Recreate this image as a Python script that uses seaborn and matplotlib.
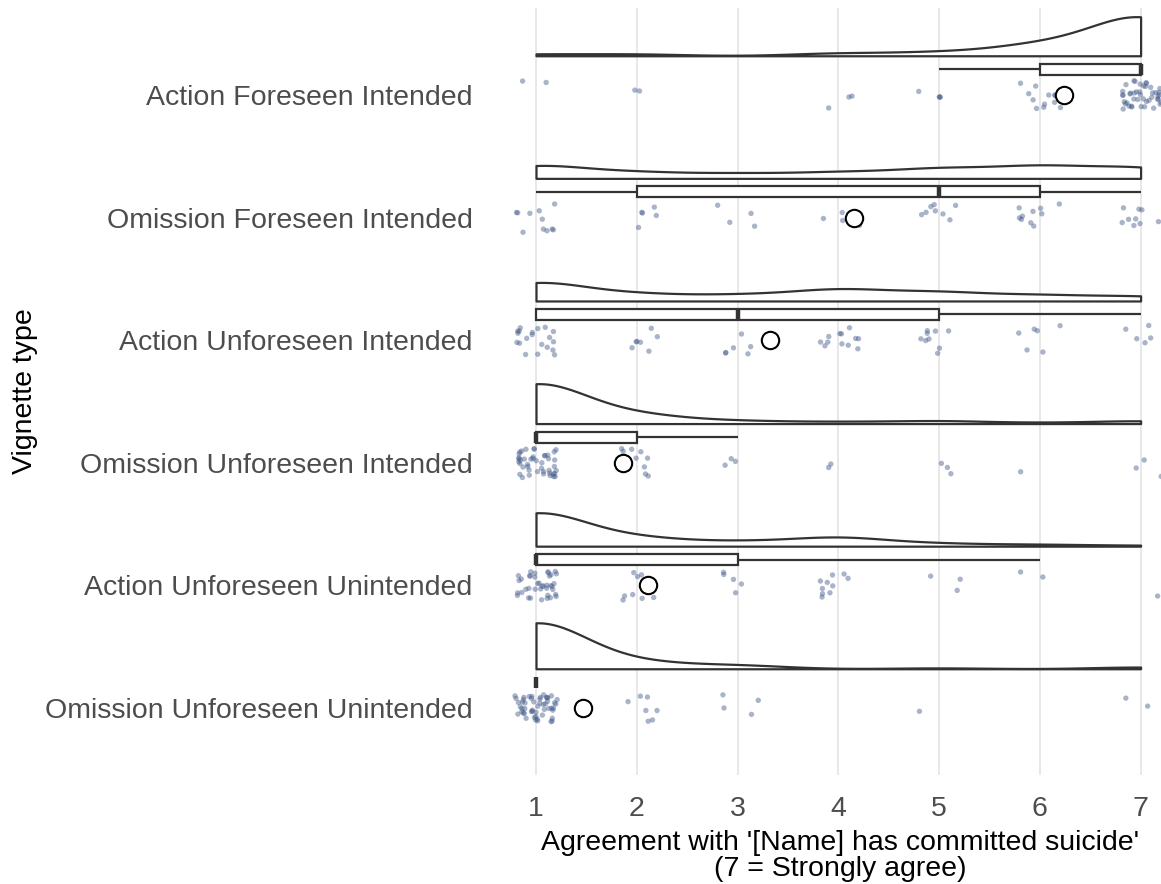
import numpy as np
import pandas as pd
import matplotlib
matplotlib.use("Agg")
import matplotlib.pyplot as plt
import seaborn as sns

# ---------------- data ----------------
categories = [
    "Action Foreseen Intended",
    "Omission Foreseen Intended",
    "Action Unforeseen Intended",
    "Omission Unforeseen Intended",
    "Action Unforeseen Unintended",
    "Omission Unforeseen Unintended",
]
levels = [1, 2, 3, 4, 5, 6, 7]
# number of responses at each level 1..7, per vignette
counts_afi = [2, 2, 0, 3, 4, 12, 44]
counts_ofi = [11, 5, 4, 5, 8, 10, 9]
counts_aui = [20, 7, 6, 12, 9, 6, 5]
counts_oui = [44, 9, 3, 2, 3, 1, 3]
counts_auu = [39, 9, 5, 10, 3, 2, 1]
counts_ouu = [52, 7, 4, 0, 1, 0, 2]
all_counts = [counts_afi, counts_ofi, counts_aui, counts_oui, counts_auu, counts_ouu]

xticks = [1, 2, 3, 4, 5, 6, 7]
xlabel = "Agreement with '[Name] has committed suicide'\n(7 = Strongly agree)"
ylabel = "Vignette type"

# ---------------- build long table ----------------
rows = []
for i, (cat, cnt) in enumerate(zip(categories, all_counts)):
    resp = np.repeat(levels, cnt)
    for k, r in enumerate(resp):
        rows.append({"vignette": cat, "idx": i, "response": float(r), "k": k})
df = pd.DataFrame(rows)

# display-only offsets (deterministic hash jitter)
VW = 0.375                      # half-violin height
CLOUD_BASE, BOX_OFF = 0.32, 0.21
def _frac_hash(a, seed):
    v = np.sin(a * 12.9898 + seed * 78.233) * 43758.5453
    return v - np.floor(v)
key = df["k"].to_numpy() + 101 * df["idx"].to_numpy()
df["cloud_pos"] = df["idx"] - CLOUD_BASE - VW / 2
df["box_pos"] = df["idx"] - BOX_OFF
df["x_jit"] = df["response"] + (_frac_hash(key, 1.0) - 0.5) * 0.42
df["y_jit"] = df["idx"] + (_frac_hash(key, 2.0) - 0.5) * 0.24

BW = 0.5  # common kernel bandwidth (response units)
def fixed_bw(kde):
    return BW / np.std(kde.dataset, ddof=1)

# ---------------- figure ----------------
W, H = 1161, 884
fig = plt.figure(figsize=(W / 100, H / 100), dpi=100)
left_px, right_px, top_px, bot_px = 483.6, 1193.0, 8.0, 775.0
ax = fig.add_axes([left_px / W, 1 - bot_px / H, (right_px - left_px) / W, (bot_px - top_px) / H])

edge = "#333333"
sns.violinplot(data=df, x="response", y="cloud_pos", orient="h", native_scale=True,
               split=True, inner=None, cut=0, density_norm="area", width=VW,
               bw_method=fixed_bw, gridsize=300, color="white", linecolor=edge,
               linewidth=1.6, ax=ax)

sns.scatterplot(data=df, x="x_jit", y="y_jit", color="#42598a", alpha=0.45,
                s=15, edgecolor="none", ax=ax, legend=False, zorder=3)

sns.boxplot(data=df, x="response", y="box_pos", orient="h", native_scale=True,
            width=0.09, showfliers=False, showcaps=False, whis=1.5,
            color="white", linecolor=edge, linewidth=1.6,
            medianprops={"linewidth": 3.2}, ax=ax, zorder=4)

sns.pointplot(data=df, x="response", y="idx", orient="h", native_scale=True,
              estimator="mean", errorbar=None, linestyle="none", marker="o",
              markersize=12.5, markerfacecolor="white", markeredgecolor="black",
              markeredgewidth=1.5, color="black", ax=ax, zorder=5)

# ---------------- axes styling ----------------
unit = (bot_px - top_px) / 6.256
ax.set_ylim(5 + (bot_px - 708) / unit, -(95 - top_px) / unit)
ax.set_xlim(0.48, 7.52)
ax.set_xticks(xticks)
ax.set_xticklabels([str(t) for t in xticks])
ax.set_yticks(range(len(categories)))
ax.set_yticklabels(categories)
for s in ax.spines.values():
    s.set_visible(False)
ax.tick_params(axis="both", length=0, labelsize=20.5, labelcolor="#4d4d4d")
ax.tick_params(axis="y", pad=8)
ax.tick_params(axis="x", pad=15)
for lab in ax.get_xticklabels() + ax.get_yticklabels():
    lab.set_fontfamily("Liberation Sans")
ax.grid(False)
ax.xaxis.grid(True, color="#e6e6e6", linewidth=1.3)
ax.set_axisbelow(True)
ax.set_xlabel("")
ax.set_ylabel("")
ax.set_facecolor("white")

fig.text(25 / W, 1 - 391 / H, ylabel, rotation=90, ha="center", va="center",
         fontsize=20.5, family="Liberation Sans", color="black")
fig.text(840 / W, 1 - 856 / H, xlabel, ha="center", va="center",
         fontsize=20.5, family="Liberation Sans", color="black", linespacing=1.05)

fig.savefig("out.png", dpi=100, facecolor="white")
